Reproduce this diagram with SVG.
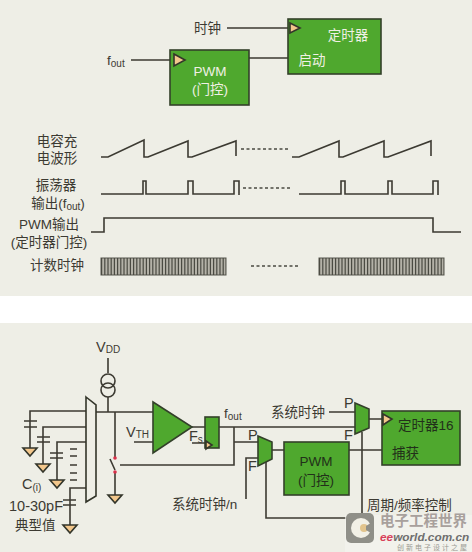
<svg xmlns="http://www.w3.org/2000/svg" width="472" height="552" viewBox="0 0 472 552">
<style>
text{font-family:"Liberation Sans","Noto Sans CJK SC",sans-serif;fill:#3c3a32;font-size:13.5px}
.c{text-anchor:middle}
.w{fill:#f0f0e4}
.k{fill:#22301a}
.sub{font-size:10px}
.big{font-size:14.5px}
.l{fill:none;stroke:#3c3a32;stroke-width:1.6}
.d{fill:none;stroke:#4a4a42;stroke-width:1.6;stroke-dasharray:3 2.5}
.b{fill:#4fa82e;stroke:#33402a;stroke-width:1.6}
.t{fill:#f3c78c;stroke:#33352a;stroke-width:1.6}
.cnt{fill:none;stroke:#4a4a42;stroke-width:17;stroke-dasharray:1.2 2}
.cb{fill:#b4b2a8;stroke:#55554d;stroke-width:1}
</style>
<defs>
<path id="g" class="t" d="M-7 0H7L0 8Z"/>
</defs>
<rect width="472" height="552" fill="#eeeee6"/>
<rect y="296" width="472" height="27" fill="#ffffff"/>
<g id="connectors">
<path class="l" d="M131 60H172M227 28H290M249 58H288"/>
<path class="l" d="M108 358V373M108 397V412M96 412H153M134 442H153M115 412V458M110 459L115 470M115 472V495M120 465H234V427M192 427H205M219 427H355M234 442H258M192 443H206M246 499V458H258M272 450H284M329 412H355M369 419H383M349 450H382M362 432V518H266V462"/>
<path class="l" d="M86 411H30V448M86 427H43V464M86 442H57V480M86 488H70V525"/>
<path class="l" d="M24 421H37M24 427H37M37 437H50M37 442H50M50 453H63M50 458H63M63 500H76M63 505H76M70 449H77M70 456H77M70 465H77M70 473H77M70 480H77"/>
<circle class="l" cx="108" cy="381" r="7"/>
<circle class="l" cx="108" cy="390" r="7"/>
<circle cx="115" cy="458" r="1.8" fill="#d8304a"/>
<circle cx="115" cy="472" r="1.8" fill="#d8304a"/>
<use href="#g" x="30" y="448"/>
<use href="#g" x="43" y="464"/>
<use href="#g" x="57" y="480"/>
<use href="#g" x="70" y="525"/>
<use href="#g" x="115" y="495"/>
</g>
<g id="timing">
<path class="l" d="M101 157H108L144 140V157H148L188 141V157H192L236 141V156"/>
<path class="l" d="M292 157H299L339 141V157H343L384 141V157H388L431 141V156"/>
<path class="d" d="M241 149H290M243 188H292M251 266H300"/>
<path class="l" d="M101 194H143V181H146V194H188V181H193V194H234V181H239V195"/>
<path class="l" d="M299 194H341V181H345V194H388V181H392V194H433V181H438V195"/>
<path class="l" d="M91 232H104V218H433V232H461"/>
<rect class="cb" x="101" y="258" width="125" height="17"/>
<rect class="cb" x="319" y="258" width="125" height="17"/>
<path class="cnt" d="M101 266.500H226M319 266.500H444"/>
<text class="c" x="57" y="146">电容充</text>
<text class="c" x="57" y="163">电波形</text>
<text class="c" x="56" y="190">振荡器</text>
<text class="c" x="58" y="208">输出(f<tspan class="sub" dy="2">out</tspan><tspan dy="-2">)</tspan></text>
<text class="c" x="49" y="229">PWM输出</text>
<text class="c" x="49" y="247">(定时器门控)</text>
<text class="c" x="57" y="270">计数时钟</text>
</g>
<g id="top-labels">
<text x="107" y="65">f<tspan class="sub" dy="2">out</tspan></text>
<text x="194" y="33">时钟</text>
</g>
<g id="pwm-top">
<rect class="b" x="170" y="50" width="79" height="55"/>
<path class="t" d="M174 54L185 60L174 66Z"/>
<text class="c w" x="210" y="76">PWM</text>
<text class="c w" x="210" y="94">(门控)</text>
</g>
<g id="timer-top">
<rect class="b" x="288" y="19" width="93" height="55"/>
<path class="t" d="M290 23L300 28L290 33Z"/>
<text class="c w" x="348" y="40">定时器</text>
<text class="c w" x="312" y="65">启动</text>
</g>
<g id="selector">
<path fill="#eeeee6" stroke="#33352a" stroke-width="1.6" d="M86 397L96 405V496L86 502Z"/>
</g>
<g id="bottom-labels">
<text x="96" y="352" class="big">V<tspan class="sub" dy="1">DD</tspan></text>
<text x="126" y="437" class="big">V<tspan class="sub" dy="1">TH</tspan></text>
<text x="22" y="489" class="big">C<tspan class="sub" dy="2">(i)</tspan></text>
<text x="9" y="511" class="big">10-30pF</text>
<text x="15" y="530">典型值</text>
<text x="189" y="441" class="big">F<tspan class="sub" dy="2">s</tspan></text>
<text x="224" y="418">f<tspan class="sub" dy="2">out</tspan></text>
<text x="271" y="417">系统时钟</text>
<text x="172" y="509">系统时钟/n</text>
<text x="367" y="510">周期/频率控制</text>
<text x="344" y="408" class="big">P</text>
<text x="344" y="440" class="big">F</text>
<text x="248" y="440" class="big">P</text>
<text x="248" y="471" class="big">F</text>
</g>
<g id="comparator"><path class="b" d="M153 402L192 427L153 453Z"/></g>
<g id="flipflop">
<rect class="b" x="205" y="417" width="14" height="31"/>
<path class="t" stroke-width="1" d="M206 441L212 445L206 449Z"/>
</g>
<g id="mux1"><path class="b" d="M258 436L272 442V459L258 466Z"/></g>
<g id="mux2"><path class="b" d="M355 403L369 409V428L355 434Z"/></g>
<g id="pwm-bottom">
<rect class="b" x="284" y="442" width="65" height="53"/>
<text class="c k" x="316" y="466">PWM</text>
<text class="c k" x="316" y="485">(门控)</text>
</g>
<g id="timer16">
<rect class="b" x="382" y="411" width="78" height="54"/>
<path class="t" d="M383 414L392 419L383 425Z"/>
<text class="k" x="398" y="430">定时器16</text>
<text class="k" x="392" y="458">捕获</text>
</g>
<g id="watermark">
<rect x="345" y="515" width="127" height="37" fill="#f4f4ee" fill-opacity=".7"/>
<rect x="346" y="513" width="28" height="30" rx="5" fill="#8f8f88"/>
<circle cx="361" cy="528" r="10" fill="#f2f0e6"/>
<circle cx="364" cy="528" r="4" fill="#e2c48c"/>
<path d="M374 521L366 526V530L374 535Z" fill="#8f8f88"/>
<text x="380" y="526" style="font-size:14.500px;font-weight:bold;fill:#a8a09c">电子工程世界</text>
<text x="380" y="541" style="font-size:11.800px;font-weight:bold;font-style:italic;fill:#6e6e6e"><tspan fill="#d8405a">ee</tspan>world.com.cn</text>
<text x="397" y="550" style="font-size:7px;letter-spacing:2px;fill:#9a9a92">创新电子设计之屋</text>
</g>
</svg>
